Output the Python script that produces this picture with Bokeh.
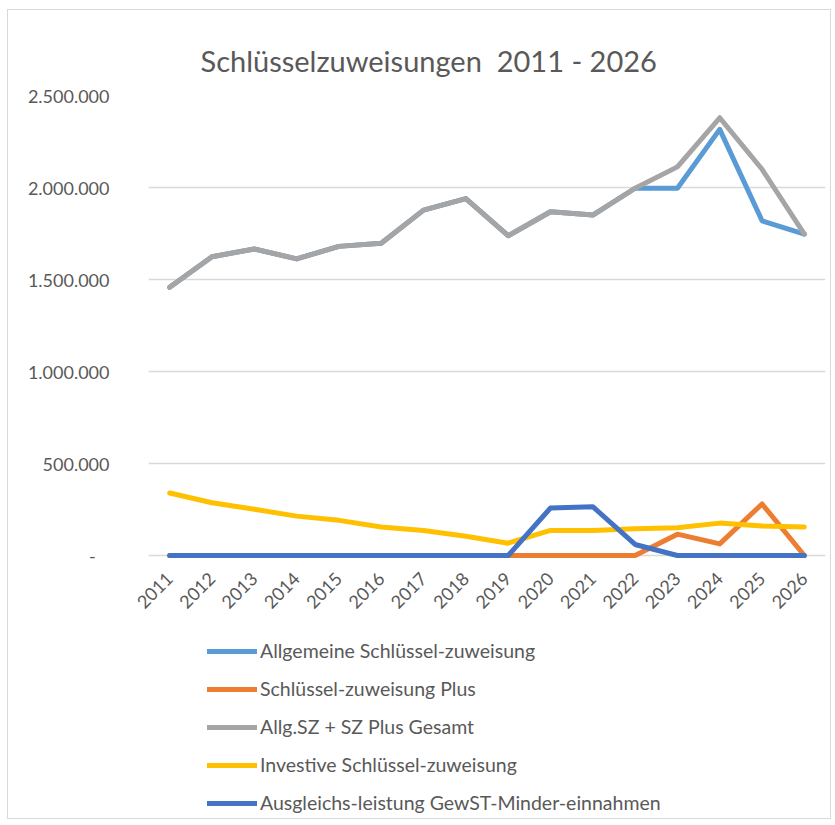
import math
from bokeh.plotting import figure
from bokeh.layouts import column
from bokeh.models import Legend, LegendItem, CustomJSTickFormatter, FixedTicker, Range1d
from bokeh.embed import file_html
from bokeh.resources import INLINE

years = [str(y) for y in range(2011, 2027)]

allgemeine = [1458000, 1624000, 1666000, 1612000, 1680000, 1697000, 1877000, 1940000,
              1738000, 1868000, 1850000, 1996000, 1996000, 2316000, 1819000, 1747000]
sz_plus = [0, 0, 0, 0, 0, 0, 0, 0, 0, 0, 0, 0, 116000, 63000, 280000, 0]
gesamt = [1458000, 1624000, 1666000, 1612000, 1680000, 1697000, 1877000, 1940000,
          1738000, 1868000, 1850000, 1996000, 2112000, 2379000, 2099000, 1747000]
investive = [340000, 287000, 251000, 214000, 191000, 155000, 136000, 105000,
             67000, 136000, 136000, 145000, 151000, 176000, 160000, 155000]
ausgleich = [0, 0, 0, 0, 0, 0, 0, 0, 0, 258000, 265000, 60000, 0, 0, 0, 0]

y_ticks = [0, 500000, 1000000, 1500000, 2000000, 2500000]
y_max = 2500000

names = ["Allgemeine Schlüssel-zuweisung", "Schlüssel-zuweisung Plus",
         "Allg.SZ + SZ Plus Gesamt", "Investive Schlüssel-zuweisung",
         "Ausgleichs-leistung GewST-Minder-einnahmen"]
series = [allgemeine, sz_plus, gesamt, investive, ausgleich]
colors = ["#5B9BD5", "#ED7D31", "#A5A5A5", "#FFC000", "#4472C4"]

FONT = "Lato"
TXT = "#595959"
W = 822

# a few pixels of room below the zero line so lines lying on it are not clipped
AXIS_PX = 460
PAD_PX = 4
y_lo = -y_max * PAD_PX / AXIS_PX

p = figure(x_range=years, y_range=Range1d(y_lo, y_max),
           frame_width=677, frame_height=AXIS_PX + PAD_PX,
           min_border_left=140, min_border_right=5,
           min_border_top=85, min_border_bottom=75 - PAD_PX,
           output_backend="svg", toolbar_location=None,
           title="Schlüsselzuweisungen\u00a0\u00a02011 - 2026")

p.title.text_font = FONT
p.title.text_font_size = "29px"
p.title.text_font_style = "normal"
p.title.text_color = TXT
p.title.align = "left"
p.title.offset = 52
p.title.standoff = 36

p.outline_line_color = None
p.background_fill_color = "white"
p.border_fill_color = "white"

p.xgrid.grid_line_color = None
p.ygrid.ticker = FixedTicker(ticks=y_ticks)
p.ygrid.grid_line_color = "#D9D9D9"
p.ygrid.grid_line_width = 1.5

p.yaxis.ticker = FixedTicker(ticks=y_ticks)
p.yaxis.formatter = CustomJSTickFormatter(code="""
if (tick == 0) { return "-\u00a0\u00a0\u00a0"; }
return Math.round(tick).toString().replace(/\\B(?=(\\d{3})+(?!\\d))/g, ".");
""")
p.yaxis.axis_line_color = None
p.yaxis.major_tick_line_color = None
p.yaxis.minor_tick_line_color = None
p.yaxis.major_label_text_font = FONT
p.yaxis.major_label_text_font_size = "18px"
p.yaxis.major_label_text_color = TXT
p.yaxis.major_label_standoff = 33

# the zero grid line serves as the category axis line
p.xaxis.axis_line_color = None
p.xaxis.major_tick_line_color = None
p.xaxis.minor_tick_line_color = None
p.xaxis.major_label_orientation = math.pi / 4
p.xaxis.major_label_text_font = FONT
p.xaxis.major_label_text_font_size = "18px"
p.xaxis.major_label_text_color = TXT
p.xaxis.major_label_standoff = 14 - PAD_PX

for vals, c in zip(series, colors):
    p.line(years, vals, line_color=c, line_width=5,
           line_join="round", line_cap="round")

# legend strip below the chart (same line styles, nothing plotted itself)
lg = figure(width=W, height=188, x_range=Range1d(0, 1), y_range=Range1d(0, 1),
            min_border=0, x_axis_location=None, y_axis_location=None,
            output_backend="svg", toolbar_location=None)
lg.outline_line_color = None
lg.xgrid.grid_line_color = None
lg.ygrid.grid_line_color = None
lg.background_fill_color = "white"
lg.border_fill_color = "white"

items = []
for n, c in zip(names, colors):
    r = lg.line(x=[float("nan")], y=[float("nan")], line_color=c, line_width=5,
                line_join="round", line_cap="round")
    items.append(LegendItem(label=n, renderers=[r]))

legend = Legend(items=items, location=(59, 4), orientation="vertical",
                background_fill_alpha=0, border_line_color=None,
                label_text_font=FONT, label_text_font_size="19.5px",
                label_text_color=TXT, glyph_width=50, glyph_height=20,
                label_height=20, spacing=15, label_standoff=3, padding=0,
                margin=0)
lg.add_layout(legend, "center")

layout = column(p, lg, spacing=0)
layout.margin = (9, 0, 0, 7)
layout.styles = {"border": "1px solid #D9D9D9", "background-color": "white"}

open("out.html", "w").write(file_html(layout, INLINE))
